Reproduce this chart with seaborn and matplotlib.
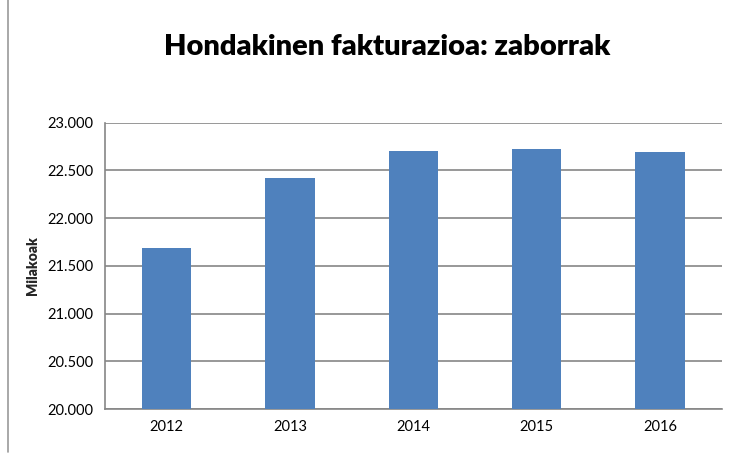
import numpy as np
import pandas as pd
import matplotlib.pyplot as plt
import seaborn as sns
from matplotlib.lines import Line2D
from matplotlib.ticker import FuncFormatter

# chart data
years = ["2012", "2013", "2014", "2015", "2016"]
values = [21687, 22420, 22703, 22724, 22693]
title = "Hondakinen fakturazioa: zaborrak"
ylabel = "Milakoak"

df = pd.DataFrame({"urtea": years, "milakoak": values})

sns.set_style("white")
plt.rcParams["font.family"] = ["Lato", "DejaVu Sans"]

fig = plt.figure(figsize=(7.35, 4.54), dpi=100)
ax = fig.add_axes([0.143, 0.099, 0.839, 0.631])

sns.barplot(data=df, x="urtea", y="milakoak", color="#4f81bd", width=0.4,
            saturation=1, linewidth=0, ax=ax, zorder=3)

ax.set_ylim(20000, 23000)
ax.set_yticks(np.arange(20000, 23001, 500))
ax.yaxis.set_major_formatter(FuncFormatter(lambda v, p: f"{int(v):,}".replace(",", ".")))
ax.set_xlim(-0.5, len(years) - 0.5)
ax.grid(axis="y", color="#868686", linewidth=1.2, zorder=0)
ax.set_axisbelow(True)

# ticks between categories on the x axis
ax.set_xticks(np.arange(-0.5, len(years)), minor=True)
ax.tick_params(axis="x", which="major", length=0, labelsize=10.5, pad=8, colors="black")
ax.tick_params(axis="x", which="minor", length=5, color="#868686", width=1.2)
ax.tick_params(axis="y", length=5, color="#868686", width=1.2, labelsize=10.5, colors="black")

for s in ["top", "right"]:
    ax.spines[s].set_visible(False)
for s in ["left", "bottom"]:
    ax.spines[s].set_color("#868686")
    ax.spines[s].set_linewidth(1.2)

ax.set_xlabel("")
ax.set_ylabel(ylabel, fontsize=10, fontweight="heavy", labelpad=6)

fig.text(387 / 735, 1 - 47 / 454, title, fontsize=21, fontweight="heavy",
         ha="center", va="center", color="black")

# left border of the original picture
fig.add_artist(Line2D([8 / 735, 8 / 735], [0.005, 1], color="#9a9a9a", linewidth=1.2))

fig.savefig("out.png", dpi=100)
